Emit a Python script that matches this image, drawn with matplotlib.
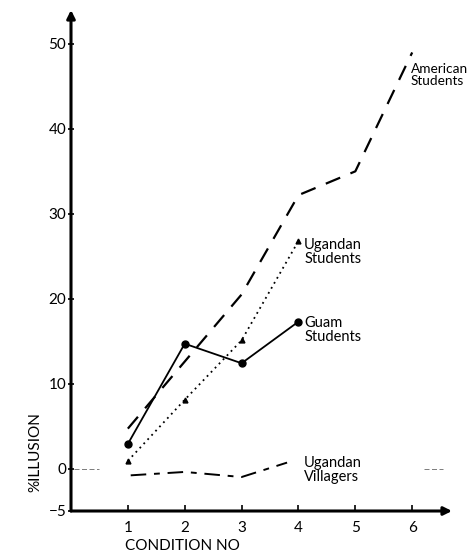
import matplotlib.pyplot as plt

conditions = [1, 2, 3, 4, 5, 6]
american = [4.7, 12.6, 20.5, 32.2, 35.0, 49.0]
uganda_cond = [1, 2, 3, 4]
uganda_students = [0.9, 8.1, 15.1, 26.8]
guam_cond = [1, 2, 3, 4]
guam_students = [2.9, 14.7, 12.4, 17.3]
village_cond = [1.05, 2, 3, 3.8]
uganda_villagers = [-0.8, -0.4, -1.0, 0.7]

yticks = [-5, 0, 10, 20, 30, 40, 50]

plt.rcParams['font.family'] = ['Lato', 'DejaVu Sans']

fig = plt.figure(figsize=(4.71, 5.53), dpi=100)
ax = fig.add_axes([71 / 471, 42 / 553, (452 - 71) / 471, (511 - 10) / 553])
ax.set_xlim(0, 6.7)
ax.set_ylim(-5, 54)

for s in ax.spines.values():
    s.set_visible(False)

# axes drawn as arrows
ax.annotate('', xy=(1, 0), xytext=(0, 0), xycoords='axes fraction',
            arrowprops=dict(arrowstyle='-|>', lw=2.2, color='black',
                            mutation_scale=12, shrinkA=0, shrinkB=0))
ax.annotate('', xy=(0, 1), xytext=(0, 0), xycoords='axes fraction',
            arrowprops=dict(arrowstyle='-|>', lw=2.2, color='black',
                            mutation_scale=12, shrinkA=0, shrinkB=0))

ax.plot(conditions, american, color='black', lw=1.6, dashes=(7, 5))
ax.plot(uganda_cond, uganda_students, color='black', lw=1.3, dashes=(1, 2.2),
        marker='^', markersize=3.5)
ax.plot(guam_cond, guam_students, color='black', lw=1.3, marker='o', markersize=5)
ax.plot(village_cond, uganda_villagers, color='black', lw=1.4, dashes=(8, 4, 3, 4))

# short zero reference marks at the edges
ax.plot([0.05, 0.5], [0, 0], color='black', lw=0.6, alpha=0.6, dashes=(6, 3))
ax.plot([6.2, 6.55], [0, 0], color='black', lw=0.6, alpha=0.6, dashes=(6, 3))

ax.set_xticks(conditions)
ax.set_yticks(yticks)
ax.tick_params(axis='x', direction='in', length=4, width=1.2, labelsize=11, pad=7)
ax.tick_params(axis='y', direction='inout', length=5, width=1.2, labelsize=11, pad=1)

fs = 10.5
ax.text(5.97, 47.8, 'American\nStudents', fontsize=9.8, va='top', ha='left', linespacing=1.0)
ax.text(4.1, 27.1, 'Ugandan\nStudents', fontsize=fs, va='top', ha='left', linespacing=1.0)
ax.text(4.1, 18.0, 'Guam\nStudents', fontsize=fs, va='top', ha='left', linespacing=1.0)
ax.text(4.1, 1.5, 'Ugandan\nVillagers', fontsize=fs, va='top', ha='left', linespacing=1.0)

fig.text(125 / 471, 1 - 546 / 553, 'CONDITION NO', fontsize=11, ha='left', va='center')
fig.text(35 / 471, 1 - 452 / 553, '%ILLUSION', fontsize=11, rotation=90,
         ha='center', va='center')

fig.savefig('out.png', dpi=100)
